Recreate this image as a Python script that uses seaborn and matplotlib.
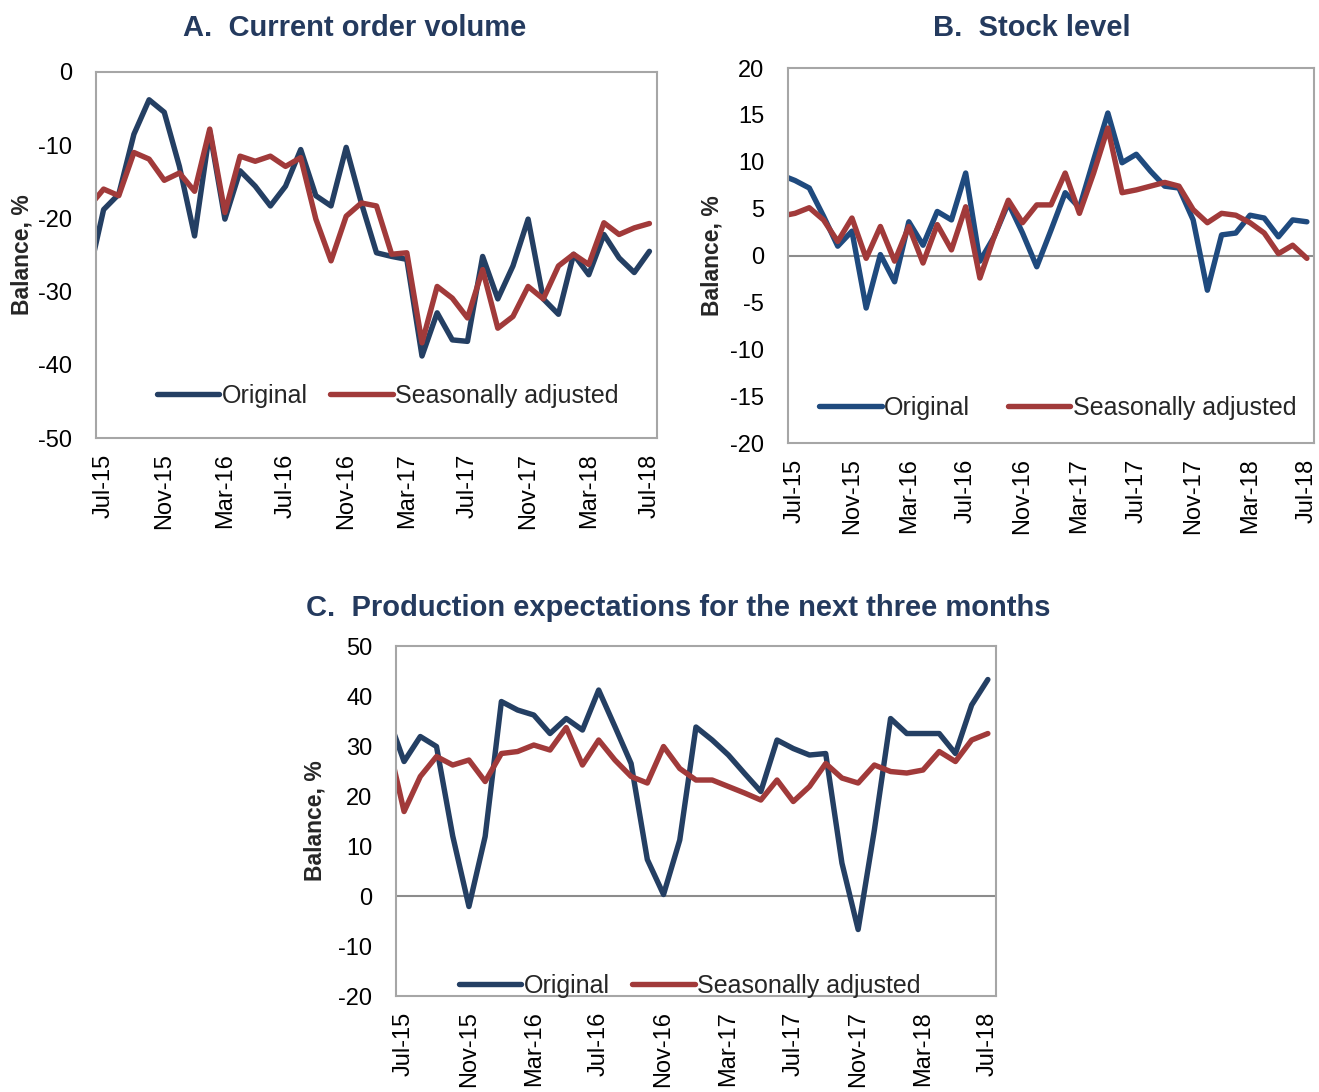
import numpy as np
import pandas as pd
import matplotlib
matplotlib.use("Agg")
import matplotlib.pyplot as plt
import seaborn as sns

# ---- categories (Jun-15 .. Jul-18; Jun-15 sits just left of the visible axis) ----
months = pd.date_range("2015-06-01", "2018-07-01", freq="MS")
month_labels = [d.strftime("%b-%y") for d in months]
month_pos = list(range(-1, len(months) - 1))

# ---- A. Current order volume ----
a_original = [-28, -18.8, -16.7, -8.5, -3.8, -5.5, -12.9, -22.4, -8.1, -20.1, -13.5, -15.6, -18.3,
              -15.6, -10.6, -16.9, -18.3, -10.3, -17.9, -24.7, -25.2, -25.6, -38.8, -32.9, -36.6,
              -36.8, -25.2, -31.0, -26.5, -20.1, -31.0, -33.1, -24.9, -27.7, -22.2, -25.4, -27.4, -24.5]
a_adjusted = [-18.5, -16.0, -16.9, -11.0, -11.9, -14.8, -13.8, -16.3, -7.8, -19.2, -11.5, -12.2, -11.5,
              -12.9, -11.7, -20.1, -25.8, -19.7, -17.9, -18.3, -24.9, -24.7, -37.0, -29.3, -30.9,
              -33.6, -27.0, -35.0, -33.4, -29.3, -31.0, -26.5, -24.9, -26.3, -20.6, -22.2, -21.3, -20.7]

# ---- B. Stock level ----
b_original = [8.6, 8.0, 7.2, 4.2, 1.0, 2.6, -5.6, 0.1, -2.8, 3.6, 1.1, 4.7, 3.8,
              8.8, -0.6, 2.0, 5.6, 2.4, -1.2, 2.7, 6.7, 5.1, 10.2, 15.2, 9.9,
              10.8, 9.0, 7.4, 7.2, 3.8, -3.7, 2.2, 2.4, 4.3, 4.0, 2.0, 3.8, 3.6]
b_adjusted = [4.2, 4.5, 5.1, 3.8, 1.5, 4.0, -0.3, 3.1, -0.6, 3.1, -0.8, 3.3, 0.6,
              5.2, -2.4, 2.0, 5.9, 3.5, 5.4, 5.4, 8.8, 4.5, 8.8, 13.6, 6.7,
              7.0, 7.4, 7.8, 7.4, 4.9, 3.5, 4.5, 4.3, 3.5, 2.4, 0.2, 1.1, -0.3]

# ---- C. Production expectations for the next three months ----
c_original = [36, 26.9, 31.9, 29.9, 12.0, -2.1, 11.9, 38.9, 37.2, 36.2, 32.5, 35.5, 33.2,
              41.2, 33.9, 26.5, 7.3, 0.3, 11.2, 33.8, 31.2, 28.2, 24.5, 20.9, 31.2,
              29.5, 28.2, 28.5, 6.6, -6.7, 13.2, 35.5, 32.5, 32.5, 32.5, 28.5, 38.2, 43.3]
c_adjusted = [31, 16.9, 23.9, 27.9, 26.2, 27.2, 22.9, 28.5, 28.9, 30.2, 29.2, 33.7, 26.2,
              31.2, 27.2, 23.9, 22.6, 29.9, 25.5, 23.2, 23.2, 21.9, 20.6, 19.2, 23.2,
              18.9, 21.9, 26.5, 23.6, 22.6, 26.2, 24.9, 24.6, 25.2, 28.9, 26.9, 31.2, 32.5]

series_names = ["Original", "Seasonally adjusted"]
tick_every = 4

sns.set_theme(style="white")
plt.rcParams["font.family"] = ["Liberation Sans", "DejaVu Sans"]

fig = plt.figure(figsize=(13.19, 10.92), dpi=100)

title_color = "#243A5E"
frame_color = "#A6A6A6"


def long_df(orig, adj):
    return pd.DataFrame({
        "pos": month_pos * 2,
        "value": orig + adj,
        "series": [series_names[0]] * len(orig) + [series_names[1]] * len(adj),
    })


def panel(rect, orig, adj, colors, ylim, ystep, leg_xy, colspace, zero_line):
    ax = fig.add_axes(rect)
    df = long_df(orig, adj)
    sns.lineplot(data=df, x="pos", y="value", hue="series", hue_order=series_names,
                 palette=colors, linewidth=3.9, ax=ax, legend=True,
                 solid_capstyle="round", solid_joinstyle="round")
    ax.set_xlim(-0.5, len(months) - 1.5)
    ax.set_ylim(*ylim)
    yt = np.arange(ylim[0], ylim[1] + 0.1, ystep)
    ax.set_yticks(yt)
    ax.set_yticklabels([f"{int(v)}" for v in yt])
    ticks = [p for p in month_pos if p >= 0 and p % tick_every == 0]
    ax.set_xticks(ticks)
    ax.set_xticklabels([month_labels[month_pos.index(p)] for p in ticks], rotation=90)
    ax.tick_params(axis="both", length=0, labelsize=17, colors="black")
    ax.tick_params(axis="x", pad=11)
    ax.tick_params(axis="y", pad=17)
    if zero_line:
        ax.axhline(0, color="#8C8C8C", linewidth=1.5, zorder=1)
    for s in ax.spines.values():
        s.set_color(frame_color)
        s.set_linewidth(1.5)
    ax.set_xlabel("")
    ax.set_ylabel("Balance, %", fontsize=16.5, fontweight="bold")
    handles, labels = ax.get_legend_handles_labels()
    ax.legend(handles, labels, loc="center", bbox_to_anchor=leg_xy, ncol=2, frameon=False,
              fontsize=18, handlelength=2.5, handletextpad=0.1, columnspacing=colspace)
    return ax


navy = "#243F63"
red = "#A13A3A"
blue_b = "#1F4A7E"

axA = panel([0.0728, 0.5989, 0.4253, 0.3352], a_original, a_adjusted, [navy, red],
            (-50, 0), 10, (0.52, 0.115), 0.9, False)
axA.yaxis.set_label_coords(-0.112, 0.5)

axB = panel([0.5974, 0.5943, 0.3988, 0.3434], b_original, b_adjusted, [blue_b, red],
            (-20, 20), 5, (0.513, 0.093), 1.5, True)
axB.yaxis.set_label_coords(-0.123, 0.5)

axC = panel([0.3002, 0.0879, 0.4549, 0.3205], c_original, c_adjusted, [navy, red],
            (-20, 50), 10, (0.49, 0.03), 0.9, True)
axC.yaxis.set_label_coords(-0.115, 0.5)

fig.text(0.269, 0.974, "A.  Current order volume", ha="center", va="center",
         fontsize=21, fontweight="bold", color=title_color)
fig.text(0.782, 0.974, "B.  Stock level", ha="center", va="center",
         fontsize=21, fontweight="bold", color=title_color)
fig.text(0.514, 0.443, "C.  Production expectations for the next three months", ha="center",
         va="center", fontsize=21, fontweight="bold", color=title_color)

fig.savefig("out.png", dpi=100)
